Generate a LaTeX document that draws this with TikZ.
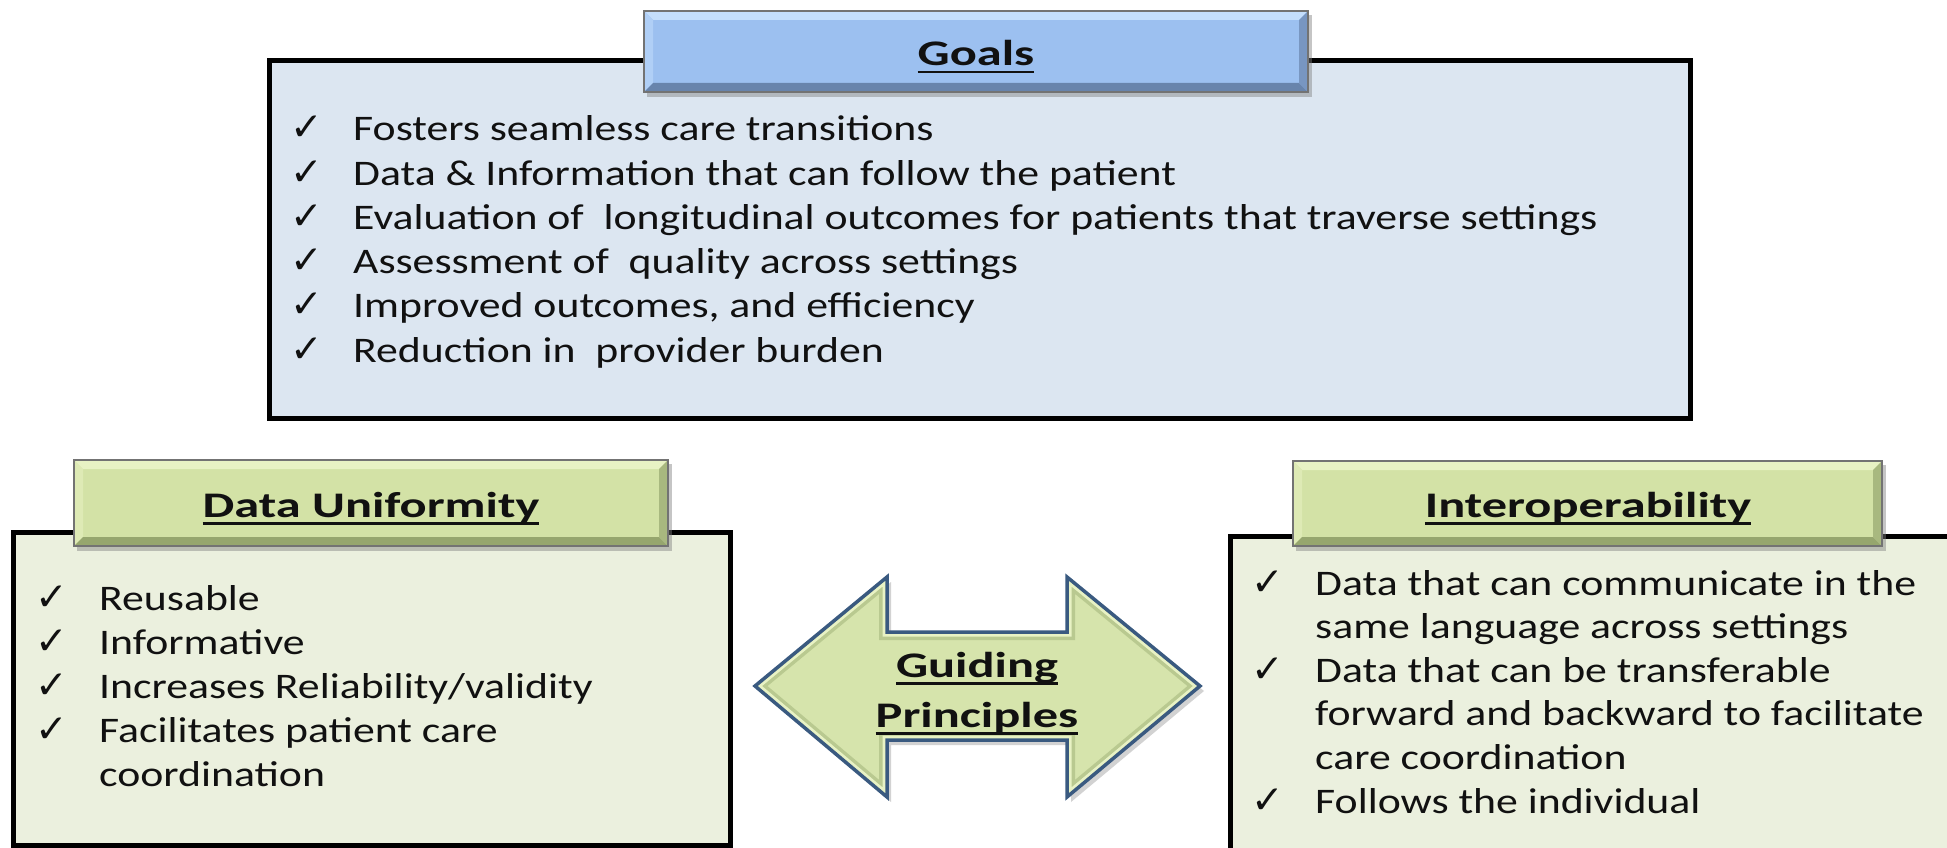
\documentclass[tikz,border=0pt]{standalone}
\usepackage{fontspec}
\setmainfont{Carlito}
\newfontfamily\bodyfont{Carlito}[FakeStretch=1.215]
\newfontfamily\headfont{Carlito}[FakeStretch=1.40]
\newfontfamily\checkfont{DejaVu Sans}
\definecolor{goalsbg}{RGB}{220,230,241}
\definecolor{goalshdr}{RGB}{156,192,240}
\definecolor{goalslight}{RGB}{196,222,252}
\definecolor{goalsdark}{RGB}{104,132,172}
\definecolor{greenbg}{RGB}{235,240,222}
\definecolor{greenhdr}{RGB}{211,226,166}
\definecolor{greenlight}{RGB}{232,242,196}
\definecolor{greendark}{RGB}{150,166,110}
\definecolor{arrowfill}{RGB}{214,228,172}
\definecolor{arrowedge}{RGB}{150,170,110}
\definecolor{arrowline}{RGB}{58,90,128}
\definecolor{txt}{RGB}{17,17,17}
\newcommand\myul[1]{\setbox0=\hbox{#1}\rlap{\rule[-7.5pt]{\wd0}{2.6pt}}\box0}
\newcommand\hdrbar[7]{%
  \fill[black!50, opacity=.45] ({#1+3},{#2+4}) rectangle ({#3+4},{#4+5});
  \fill[#5] (#1,#2) rectangle (#3,#4);
  \fill[#6] (#1,#2) -- (#3,#2) -- ({#3-9},{#2+9}) -- ({#1+9},{#2+9}) -- cycle;
  \fill[#6!50!#5] (#1,#2) -- ({#1+9},{#2+9}) -- ({#1+9},{#4-9}) -- (#1,#4) -- cycle;
  \fill[#7] (#1,#4) -- ({#1+9},{#4-9}) -- ({#3-9},{#4-9}) -- (#3,#4) -- cycle;
  \fill[#7!70!#5] (#3,#2) -- (#3,#4) -- ({#3-9},{#4-9}) -- ({#3-9},{#2+9}) -- cycle;
  \draw[hdrline] (#1,#2) rectangle (#3,#4);
}
\tikzset{
  boxline/.style={draw=black, line width=5pt},
  hdrline/.style={draw=black!55, line width=1.5pt},
  hdrtext/.style={anchor=base, inner sep=0pt, text=txt,
    font=\headfont\bfseries\fontsize{36}{40}\selectfont},
  itemtext/.style={anchor=base west, inner sep=0pt, text=txt,
    font=\bodyfont\fontsize{36}{44}\selectfont},
  checktext/.style={anchor=base west, inner sep=0pt, text=txt,
    font=\checkfont\fontsize{39}{44}\selectfont},
}
\begin{document}
\begin{tikzpicture}[x=1pt,y=-1pt]
\useasboundingbox (0,0) rectangle (1947,848);
\clip (0,0) rectangle (1947,848);
\fill[white] (0,0) rectangle (1947,848);

% ---------- Goals ----------
\draw[boxline, fill=goalsbg] (269.5,60.5) rectangle (1690.5,418.5);
\hdrbar{644}{11}{1308}{92}{goalshdr}{goalslight}{goalsdark}
\node[hdrtext] (goalsT) at (976,66) {\myul{Goals}};
\foreach \i/\t in {0/Fosters seamless care transitions,
                   1/Data \& Information that can follow the patient,
                   2/Evaluation of \ longitudinal outcomes for patients that traverse settings,
                   3/Assessment of \ quality across settings,
                   4/{Improved outcomes, and efficiency},
                   5/Reduction in \ provider burden}{
  \node[checktext] (gc\i) at (290,{141+44.2*\i}) {✓};
  \node[itemtext] (gt\i) at (353,{141+44.2*\i}) {\t};
}

% ---------- Data Uniformity ----------
\draw[boxline, fill=greenbg] (13.5,532) rectangle (730.5,845);
\hdrbar{74}{460}{668}{546}{greenhdr}{greenlight}{greendark}
\node[hdrtext] (duT) at (371,517) {\myul{Data Uniformity}};
\foreach \i in {0,1,2,3}{
  \node[checktext] (dc\i) at (35,{610+44.2*\i}) {✓};
}
\node[itemtext] (dt0) at (99,610) {Reusable};
\node[itemtext] (dt1) at (99,654.2) {Informative};
\node[itemtext] (dt2) at (99,698.4) {Increases Reliability/validity};
\node[itemtext] (dt3) at (99,742.6) {Facilitates patient care};
\node[itemtext] (dt3b) at (99,786.8) {coordination};

% ---------- Interoperability ----------
\draw[boxline, fill=greenbg] (1230,536.5) rectangle (2010,910);
\hdrbar{1293}{461}{1882}{546}{greenhdr}{greenlight}{greendark}
\node[hdrtext] (ioT) at (1588,517) {\myul{Interoperability}};
\node[checktext] (ic0) at (1251,595) {✓};
\node[checktext] (ic1) at (1251,682.2) {✓};
\node[checktext] (ic2) at (1251,813) {✓};
\node[itemtext] (it0) at (1315,595) {Data that can communicate in the};
\node[itemtext] (it0b) at (1315,638.6) {same language across settings};
\node[itemtext] (it1) at (1315,682.2) {Data that can be transferable};
\node[itemtext] (it1b) at (1315,725.8) {forward and backward to facilitate};
\node[itemtext] (it1c) at (1315,769.4) {care coordination};
\node[itemtext] (it2) at (1315,813) {Follows the individual};

% ---------- Guiding Principles arrow ----------
\coordinate (a1) at (755,686);
\coordinate (a2) at (887,577);
\coordinate (a3) at (887,632);
\coordinate (a4) at (1067,632);
\coordinate (a5) at (1067,577);
\coordinate (a6) at (1200,686);
\coordinate (a7) at (1067,797);
\coordinate (a8) at (1067,740);
\coordinate (a9) at (887,740);
\coordinate (a10) at (887,797);
\fill[black!50, opacity=.35] ([shift={(4,5)}]a1) -- ([shift={(4,5)}]a2) -- ([shift={(4,5)}]a3) -- ([shift={(4,5)}]a4) -- ([shift={(4,5)}]a5) -- ([shift={(4,5)}]a6) -- ([shift={(4,5)}]a7) -- ([shift={(4,5)}]a8) -- ([shift={(4,5)}]a9) -- ([shift={(4,5)}]a10) -- cycle;
\begin{scope}
  \clip (a1) -- (a2) -- (a3) -- (a4) -- (a5) -- (a6) -- (a7) -- (a8) -- (a9) -- (a10) -- cycle;
  \fill[arrowfill] (a1) -- (a2) -- (a3) -- (a4) -- (a5) -- (a6) -- (a7) -- (a8) -- (a9) -- (a10) -- cycle;
  \draw[arrowedge, line width=16pt, opacity=.45, line join=miter] (a1) -- (a2) -- (a3) -- (a4) -- (a5) -- (a6) -- (a7) -- (a8) -- (a9) -- (a10) -- cycle;
  \draw[greenlight, line width=9pt, line join=miter] (a1) -- (a2) -- (a3) -- (a4) -- (a5) -- (a6) -- (a7) -- (a8) -- (a9) -- (a10) -- cycle;
\end{scope}
\draw[arrowline, line width=3.5pt, line join=miter] (a1) -- (a2) -- (a3) -- (a4) -- (a5) -- (a6) -- (a7) -- (a8) -- (a9) -- (a10) -- cycle;
\node[hdrtext] (gp1) at (977,677) {\myul{Guiding}};
\node[hdrtext] (gp2) at (977,727) {\myul{Principles}};
\end{tikzpicture}
\end{document}
